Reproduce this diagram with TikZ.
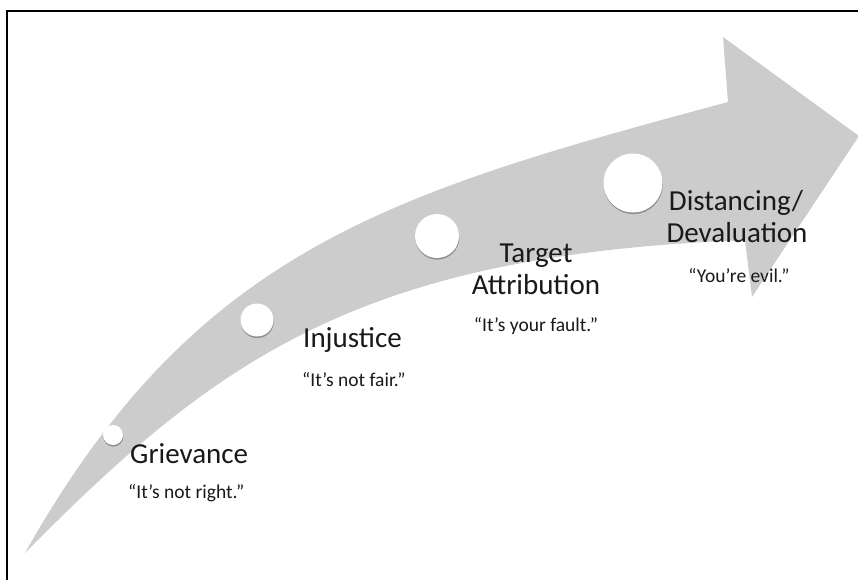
\documentclass[tikz,border=0pt]{standalone}
\usepackage{fontspec}
\setmainfont{Carlito}
\usetikzlibrary{shadows}
\definecolor{arrowgray}{RGB}{204,204,204}
\definecolor{txt}{RGB}{25,25,25}
\tikzset{
  stage/.style={font=\fontsize{29}{32}\selectfont, text=txt, inner sep=0pt},
  quote/.style={font=\fontsize{19.5}{22}\selectfont, text=txt, inner sep=0pt},
  dot/.style={circle, fill=white, inner sep=0pt,
    drop shadow={shadow xshift=0.3pt, shadow yshift=-1.6pt, opacity=0.3, fill=black}},
}
\begin{document}
\begin{tikzpicture}[x=1pt,y=-1pt]
\useasboundingbox (0,0) rectangle (858,579);
\fill[white] (0,0) rectangle (858,579);
% frame (top and left edges visible)
\draw[line width=2.2pt] (7,590) -- (7,11) -- (870,11);
% curved arrow
\fill[arrowgray]
  (25,553) .. controls (196,249) and (390,193) .. (728,102)
  -- (723,37) -- (859,136) -- (752,297) -- (745,240)
  .. controls (365,255) and (221,354) .. (25,553)
  -- cycle;
% circles
\node[dot, minimum size=20pt] (c1) at (113,435) {};
\node[dot, minimum size=33pt] (c2) at (257,320) {};
\node[dot, minimum size=44pt] (c3) at (437,236) {};
\node[dot, minimum size=59pt] (c4) at (633,183) {};
% texts
\node[stage, anchor=base west] (g) at (130,463) {Grievance};
\node[quote, anchor=base west] (gq) at (128,498) {“It’s not right.”};
\node[stage, anchor=base west] (i) at (303,347) {Injustice};
\node[quote, anchor=base west] (iq) at (302,386) {“It’s not fair.”};
\node[stage, anchor=base] (t1) at (536,262) {Target};
\node[stage, anchor=base] (t2) at (536,294) {Attribution};
\node[quote, anchor=base] (tq) at (536,331) {“It’s your fault.”};
\node[stage, anchor=base] (d1) at (736,210) {Distancing/};
\node[stage, anchor=base] (d2) at (737,242) {Devaluation};
\node[quote, anchor=base] (dq) at (739,282) {“You’re evil.”};
\end{tikzpicture}
\end{document}
